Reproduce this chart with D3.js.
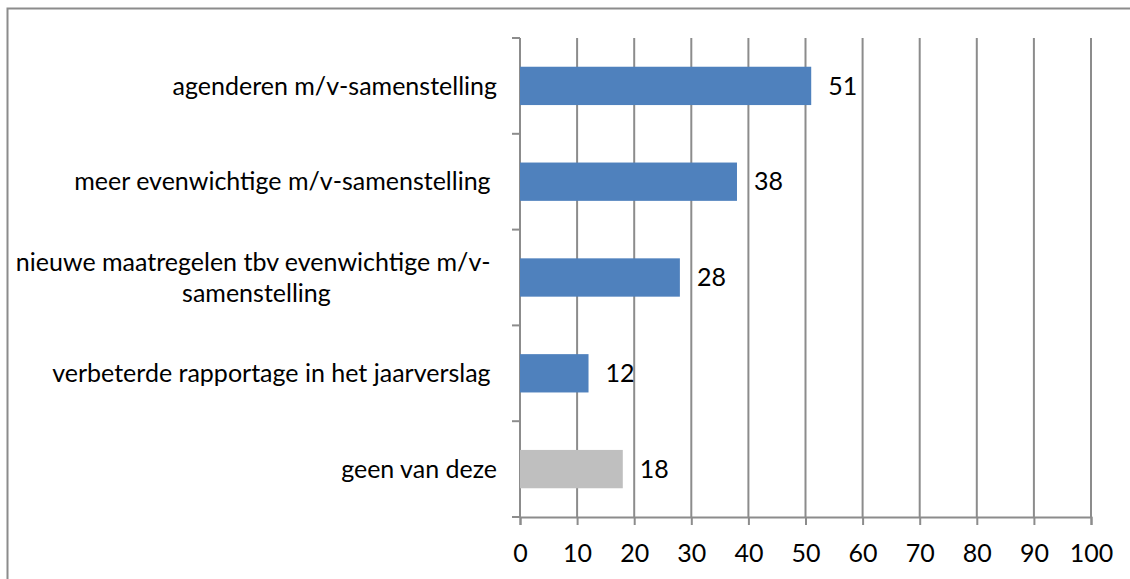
<!DOCTYPE html>
<html>
<head>
<meta charset="utf-8">
<script src="https://cdn.jsdelivr.net/npm/d3@7"></script>
<style>
  html, body { margin: 0; padding: 0; background: #fff; }
  svg { display: block; }
  text { font-family: Lato, "Open Sans", sans-serif; fill: #000; white-space: pre; }
</style>
</head>
<body>
<svg id="chart" width="1130" height="579"></svg>
<script>
// Category labels (lines split where the label wraps)
const categories = [
  ["agenderen m/v-samenstelling"],
  ["meer evenwichtige m/v-samenstelling\u00a0"],
  ["nieuwe maatregelen tbv evenwichtige m/v-\u00a0", "samenstelling"],
  ["verbeterde rapportage in het jaarverslag\u00a0"],
  ["geen van deze"]
];
const values = [51, 38, 28, 12, 18];
const barColors = ["#4f81bd", "#4f81bd", "#4f81bd", "#4f81bd", "#bfbfbf"];
const xTicks = [0, 10, 20, 30, 40, 50, 60, 70, 80, 90, 100];

const svg = d3.select("#chart");
const gridColor = "#8c8c8c";
const fontSize = "25px";

// chart frame
svg.append("rect")
  .attr("x", 7.5).attr("y", 8.5)
  .attr("width", 1140).attr("height", 600)
  .attr("fill", "none").attr("stroke", gridColor).attr("stroke-width", 2);

const plot = { left: 520, right: 1091, top: 38, bottom: 517 };

const x = d3.scaleLinear().domain([0, 100]).range([plot.left, plot.right]);
const y = d3.scaleBand().domain(d3.range(categories.length))
  .range([plot.top, plot.bottom]).paddingInner(0.6).paddingOuter(0.3);

// vertical gridlines
svg.append("g").selectAll("line").data(xTicks.slice(1)).join("line")
  .attr("x1", d => x(d)).attr("x2", d => x(d))
  .attr("y1", plot.top).attr("y2", plot.bottom)
  .attr("stroke", gridColor).attr("stroke-width", 2);

// x axis
const xAxis = svg.append("g")
  .attr("transform", `translate(0,${plot.bottom})`)
  .call(d3.axisBottom(x).tickValues(xTicks).tickSize(8).tickPadding(19));
xAxis.select(".domain").attr("stroke", gridColor).attr("stroke-width", 2);
xAxis.selectAll(".tick line").attr("stroke", gridColor).attr("stroke-width", 2);
xAxis.selectAll(".tick text").style("font-size", fontSize)
  .style("font-family", "Lato, sans-serif").attr("fill", "#000");

// y axis: ticks on category boundaries
const step = (plot.bottom - plot.top) / categories.length;
const yAxisG = svg.append("g");
yAxisG.append("line")
  .attr("x1", plot.left).attr("x2", plot.left)
  .attr("y1", plot.top).attr("y2", plot.bottom)
  .attr("stroke", gridColor).attr("stroke-width", 2);
yAxisG.selectAll("line.tick").data(d3.range(categories.length + 1)).join("line")
  .attr("class", "tick")
  .attr("x1", plot.left - 8).attr("x2", plot.left)
  .attr("y1", i => plot.top + i * step).attr("y2", i => plot.top + i * step)
  .attr("stroke", gridColor).attr("stroke-width", 2);

// bars
svg.append("g").selectAll("rect").data(values).join("rect")
  .attr("x", x(0))
  .attr("y", (d, i) => y(i))
  .attr("width", d => x(d) - x(0))
  .attr("height", y.bandwidth())
  .attr("fill", (d, i) => barColors[i]);

// value labels
svg.append("g").selectAll("text").data(values).join("text")
  .attr("x", d => x(d) + 17)
  .attr("y", (d, i) => y(i) + y.bandwidth() / 2)
  .attr("dy", "0.35em")
  .style("font-size", fontSize)
  .text(d => d);

// category labels
const labelRight = 497;
const lineH = 31;
categories.forEach((lines, i) => {
  const cy = y(i) + y.bandwidth() / 2;
  const g = svg.append("g");
  const first = g.append("text")
    .attr("x", labelRight)
    .attr("y", cy - (lines.length - 1) * lineH / 2)
    .attr("dy", "0.35em")
    .attr("text-anchor", "end")
    .style("font-size", fontSize)
    .text(lines[0]);
  if (lines.length > 1) {
    const w = first.node().getComputedTextLength();
    lines.slice(1).forEach((t, k) => {
      g.append("text")
        .attr("x", labelRight - w / 2)
        .attr("y", cy - (lines.length - 1) * lineH / 2 + (k + 1) * lineH)
        .attr("dy", "0.35em")
        .attr("text-anchor", "middle")
        .style("font-size", fontSize)
        .text(t);
    });
  }
});
</script>
</body>
</html>
